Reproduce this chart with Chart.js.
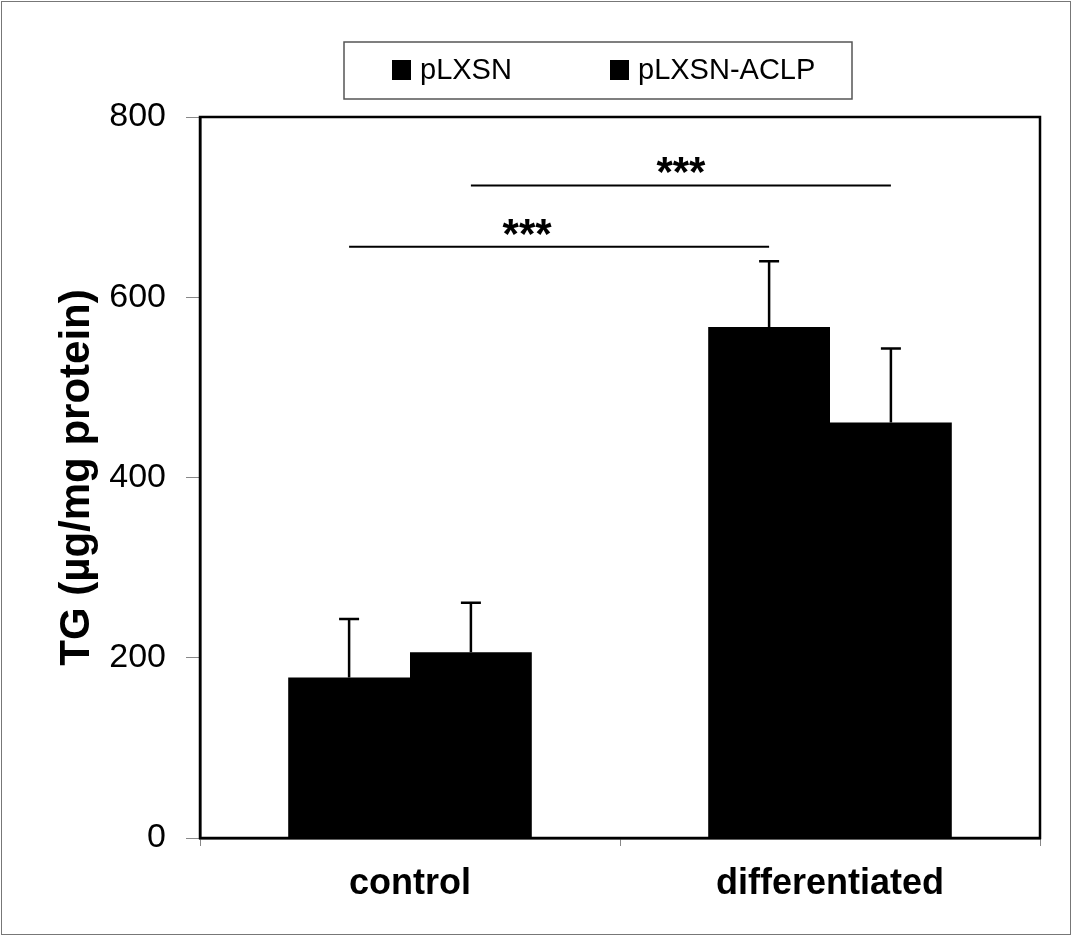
<!DOCTYPE html>
<html>
<head>
<meta charset="utf-8">
<script src="https://cdn.jsdelivr.net/npm/chart.js@4"></script>
<style>
  body { margin: 0; background: #fff; }
  #wrap { width: 1072px; height: 936px; }
</style>
</head>
<body>
<div id="wrap"><canvas id="myChart"></canvas></div>
<script>
const categories = ["control", "differentiated"];
const seriesNames = ["pLXSN", "pLXSN-ACLP"];
const pLXSN = [178, 567];
const pLXSN_ACLP = [206, 461];
const errPLXSN = [65, 73];
const errACLP = [55, 82];
const yTicks = [0, 200, 400, 600, 800];
// significance brackets: dataset index, y value of the line, label
const sigDataset = [0, 1];
const sigY = [656, 724];
const sigLabel = ["***", "***"];

const errors = [errPLXSN, errACLP];

const extras = {
    id: "extras",
    afterDatasetsDraw(chart) {
        const c = chart.ctx;
        const a = chart.chartArea;
        const y = chart.scales.y;
        c.save();
        // error bars (upper only)
        c.strokeStyle = "#000";
        c.lineWidth = 2.5;
        chart.data.datasets.forEach((ds, di) => {
            chart.getDatasetMeta(di).data.forEach((bar, i) => {
                const top = y.getPixelForValue(ds.data[i] + errors[di][i]);
                c.beginPath();
                c.moveTo(bar.x, bar.y);
                c.lineTo(bar.x, top);
                c.moveTo(bar.x - 10, top);
                c.lineTo(bar.x + 10, top);
                c.stroke();
            });
        });
        // significance lines
        c.lineWidth = 2;
        c.fillStyle = "#000";
        c.font = "bold 42px 'Liberation Sans', Arial, sans-serif";
        c.textAlign = "center";
        c.textBaseline = "alphabetic";
        sigDataset.forEach((di, k) => {
            const bars = chart.getDatasetMeta(di).data;
            const x0 = bars[0].x, x1 = bars[1].x;
            const py = y.getPixelForValue(sigY[k]);
            c.beginPath();
            c.moveTo(x0, py);
            c.lineTo(x1, py);
            c.stroke();
            c.fillText(sigLabel[k], (x0 + x1) / 2 - 32 + k * 32, py + 1);
        });
        // plot box
        c.lineWidth = 2.5;
        c.strokeRect(a.left, a.top, a.right - a.left, a.bottom - a.top);
        c.restore();
    },
    afterDraw(chart) {
        const c = chart.ctx;
        c.save();
        // outer frame
        c.strokeStyle = "#777";
        c.lineWidth = 1;
        c.strokeRect(1.5, 1.5, chart.width - 3, chart.height - 3);
        // legend box
        c.strokeStyle = "#555";
        c.lineWidth = 1.5;
        c.strokeRect(344, 42, 508, 57);
        c.font = "29px 'Liberation Sans', Arial, sans-serif";
        c.textBaseline = "alphabetic";
        c.textAlign = "left";
        const xs = [392, 610];
        chart.data.datasets.forEach((ds, i) => {
            c.fillStyle = ds.backgroundColor;
            c.fillRect(xs[i], 60, 19, 20);
            c.fillStyle = "#000";
            c.fillText(ds.label, xs[i] + 28, 79);
        });
        c.restore();
    }
};

new Chart(document.getElementById("myChart"), {
    type: "bar",
    data: {
        labels: categories,
        datasets: [
            { label: seriesNames[0], data: pLXSN, backgroundColor: "#000" },
            { label: seriesNames[1], data: pLXSN_ACLP, backgroundColor: "#000" }
        ]
    },
    plugins: [extras],
    options: {
        responsive: true,
        maintainAspectRatio: false,
        animation: false,
        categoryPercentage: 0.58,
        barPercentage: 1,
        layout: { padding: { top: 117, right: 32, bottom: 0, left: 0 } },
        plugins: {
            legend: { display: false },
            tooltip: { enabled: false }
        },
        scales: {
            x: {
                afterFit(s) { s.height = 98; },
                border: { color: "#000", width: 2.5 },
                grid: { offset: true, drawOnChartArea: false, tickLength: 8, color: "#888" },
                ticks: {
                    color: "#000",
                    padding: 16,
                    font: { family: "'Liberation Sans', Arial, sans-serif", size: 36, weight: "bold" }
                }
            },
            y: {
                min: 0,
                max: 800,
                afterFit(s) { s.width = 200; },
                afterBuildTicks(s) { s.ticks = yTicks.map(v => ({ value: v })); },
                border: { color: "#000", width: 2.5 },
                grid: { drawOnChartArea: false, tickLength: 14, color: "#888" },
                ticks: {
                    color: "#000",
                    padding: 20,
                    font: { family: "'Liberation Sans', Arial, sans-serif", size: 34 }
                },
                title: {
                    display: true,
                    text: "TG (µg/mg protein)",
                    color: "#000",
                    padding: { top: 52 },
                    font: { family: "'Liberation Sans', Arial, sans-serif", size: 42, weight: "bold" }
                }
            }
        }
    }
});
</script>
</body>
</html>
